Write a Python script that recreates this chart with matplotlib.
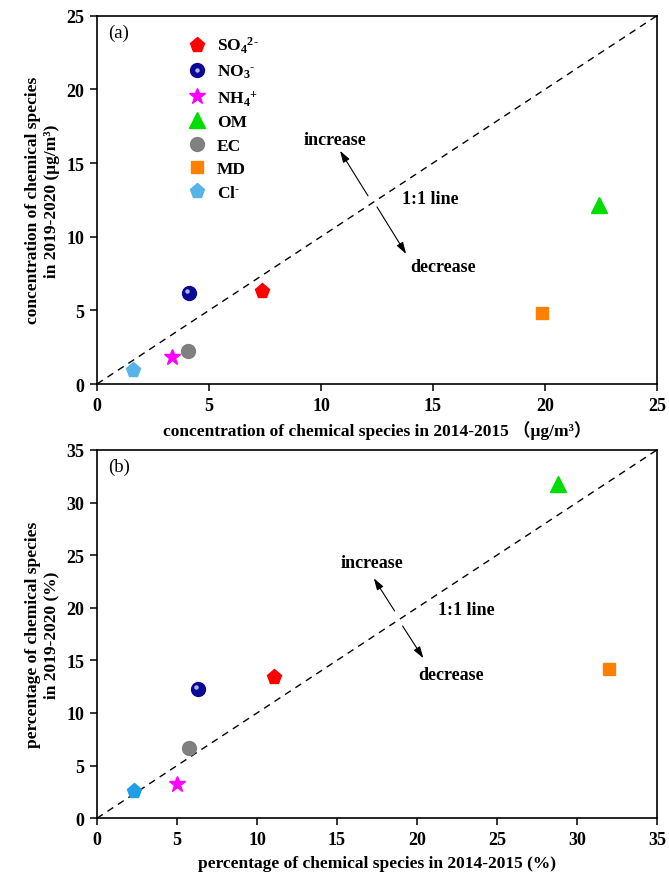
import matplotlib
matplotlib.use("Agg")
import matplotlib.pyplot as plt
from matplotlib.legend_handler import HandlerTuple
from matplotlib.transforms import offset_copy

plt.rcParams["font.family"] = ["Liberation Serif", "Noto Sans CJK SC"]
plt.rcParams["font.weight"] = "bold"
plt.rcParams["axes.labelweight"] = "bold"
plt.rcParams["mathtext.fontset"] = "custom"
plt.rcParams["mathtext.default"] = "regular"
plt.rcParams["mathtext.rm"] = "Liberation Serif:bold"

species = [r"SO$_4$$^{2\text{-}}$", r"NO$_3$$^{\text{-}}$", r"NH$_4$$^{+}$", "OM", "EC", "MD",
           r"Cl$^{\text{-}}$"]
markers = ["p", "o", "*", "^", "o", "s", "p"]
colors = ["#ff0000", "#0a0a96", "#ff00ff", "#00dd00", "#808080", "#ff8000", "#56b4e9"]
sizes = [11, 10, 12, 11, 10, 9, 11]

# (a) concentrations, ug/m3
conc_1415 = [7.35, 4.12, 3.33, 22.4, 4.05, 19.87, 1.62]
conc_1920 = [6.30, 6.18, 1.81, 12.16, 2.22, 4.82, 0.95]

# (b) percentages, %
pct_1415 = [11.04, 6.33, 5.02, 28.8, 5.75, 32.0, 2.33]
pct_1920 = [13.44, 12.27, 3.30, 31.8, 6.66, 14.18, 2.54]

fig = plt.figure(figsize=(6.69, 8.79), dpi=100)
ax_a = fig.add_axes([0.145, 0.562, 0.837, 0.419])
ax_b = fig.add_axes([0.145, 0.068, 0.837, 0.419])


def draw_panel(ax, xs, ys, lim, cl_color):
    ax.plot([0, lim], [0, lim], color="black", linestyle=(0, (5, 4)), linewidth=1.0, zorder=1)
    shine = offset_copy(ax.transData, fig=fig, x=-1.6, y=1.6, units="points")
    handles = []
    for i, name in enumerate(species):
        c = cl_color if name.startswith("Cl") else colors[i]
        h, = ax.plot(xs[i], ys[i], linestyle="none", marker=markers[i], markersize=sizes[i],
                     color=c, markeredgecolor=c, zorder=3)
        if name.startswith("NO"):
            # glossy sphere look
            ax.plot(xs[i], ys[i], linestyle="none", marker="o", markersize=3.2,
                    color="#c8c8ff", markeredgewidth=0, alpha=0.9, zorder=4, transform=shine)
            hl, = ax.plot([], [], linestyle="none", marker="o", markersize=3.2,
                          color="#c8c8ff", markeredgewidth=0, alpha=0.9)
            handles.append((h, hl))
        else:
            handles.append(h)
    ax.set_xlim(0, lim)
    ax.set_ylim(0, lim)
    ax.set_xticks(range(0, lim + 1, 5))
    ax.set_yticks(range(0, lim + 1, 5))
    ax.tick_params(direction="out", length=5, width=1.1, labelsize=13, pad=4)
    for sp in ax.spines.values():
        sp.set_linewidth(1.2)
    return handles


def arrows(ax, up, down, t_inc, t_line, t_dec):
    kw = dict(arrowstyle="-|>,head_length=0.7,head_width=0.22", color="black", lw=0.8,
              shrinkA=0, shrinkB=0)
    ax.annotate("", xy=up[1], xytext=up[0], arrowprops=kw)
    ax.annotate("", xy=down[1], xytext=down[0], arrowprops=kw)
    ax.text(*t_inc, "increase", ha="center", va="center", fontsize=13)
    ax.text(*t_line, "1:1 line", ha="center", va="center", fontsize=13)
    ax.text(*t_dec, "decrease", ha="center", va="center", fontsize=13)


handles = draw_panel(ax_a, conc_1415, conc_1920, 25, "#56b4e9")
arrows(ax_a, ((12.1, 12.77), (10.85, 15.83)), ((12.5, 12.02), (13.8, 8.83)),
       (10.63, 16.6), (14.87, 12.6), (15.45, 8.0))
ax_a.text(0.02, 0.955, "(a)", transform=ax_a.transAxes, fontsize=13.5, fontweight="normal",
          ha="left", va="center")
ax_a.set_xlabel("concentration of chemical species in 2014-2015 （μg/m³）", fontsize=12.5, labelpad=5)
ax_a.set_ylabel("concentration of chemical species\nin 2019-2020 (μg/m³)", fontsize=12.5, labelpad=5)
ax_a.legend(handles, species, loc="upper left", bbox_to_anchor=(0.132, 0.99), frameon=False,
            fontsize=12.5, handlelength=1.2, handletextpad=0.55, labelspacing=0.43,
            handler_map={tuple: HandlerTuple(ndivide=1)})

draw_panel(ax_b, pct_1415, pct_1920, 35, "#1e9fe6")
arrows(ax_b, ((18.6, 19.7), (17.3, 22.8)), ((19.1, 18.27), (20.4, 15.2)),
       (17.2, 24.3), (23.1, 19.8), (22.1, 13.7))
ax_b.text(0.02, 0.955, "(b)", transform=ax_b.transAxes, fontsize=13.5, fontweight="normal",
          ha="left", va="center")
ax_b.set_xlabel("percentage of chemical species in 2014-2015 (%)", fontsize=12.5, labelpad=5)
ax_b.set_ylabel("percentage of chemical species\nin 2019-2020 (%)", fontsize=12.5, labelpad=5)

fig.savefig("out.png", dpi=100)
